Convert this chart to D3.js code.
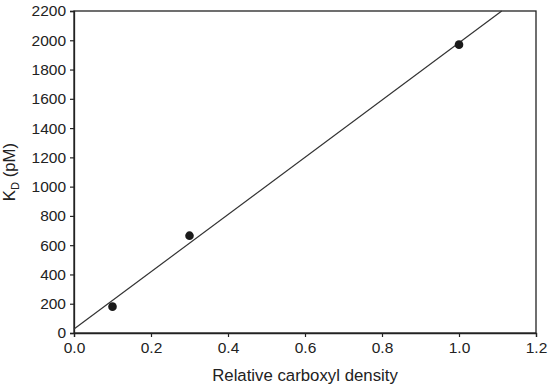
<!DOCTYPE html>
<html><head><meta charset="utf-8">
<script src="https://cdn.jsdelivr.net/npm/d3@7"></script>
<style>body{margin:0;background:#fff;} text{font-family:"Liberation Sans",Arial,sans-serif;fill:#222;}</style>
</head><body>
<svg id="c" width="550" height="389"></svg>
<script>
const xValues = [0.1, 0.3, 1.0];
const yValues = [180, 665, 1970];
const fitX = [0, 1.111];
const fitY = [27, 2200];
const xTicks = [0, 0.2, 0.4, 0.6, 0.8, 1.0, 1.2];
const yTicks = [0, 200, 400, 600, 800, 1000, 1200, 1400, 1600, 1800, 2000, 2200];

const svg = d3.select("#c");
const m = {l:74, r:536, t:11, b:333};
const x = d3.scaleLinear().domain([0,1.2]).range([m.l, m.r]);
const y = d3.scaleLinear().domain([0,2200]).range([m.b, m.t]);

// frame
svg.append("rect").attr("x", m.l).attr("y", m.t).attr("width", m.r-m.l).attr("height", m.b-m.t)
  .attr("fill","none").attr("stroke","#222").attr("stroke-width",1.3);

const xa = svg.append("g").attr("transform",`translate(0,${m.b})`)
  .call(d3.axisBottom(x).tickValues(xTicks).tickFormat(d3.format(".1f")).tickSize(4).tickPadding(5));
const ya = svg.append("g").attr("transform",`translate(${m.l},0)`)
  .call(d3.axisLeft(y).tickValues(yTicks).tickFormat(d3.format("d")).tickSize(4).tickPadding(4));
[xa, ya].forEach(a => {
  a.select(".domain").attr("stroke","#222").attr("stroke-width",1.3);
  a.selectAll(".tick line").attr("stroke","#222").attr("stroke-width",1.2);
  a.selectAll("text").attr("font-size",15.5).attr("fill","#222").attr("font-family","Liberation Sans, Arial, sans-serif");
});

// fit line
svg.append("line").attr("x1", x(fitX[0])).attr("y1", y(fitY[0]))
  .attr("x2", x(fitX[1])).attr("y2", y(fitY[1]))
  .attr("stroke","#333").attr("stroke-width",1.2);

// points
svg.selectAll("circle.pt").data(xValues).enter().append("circle")
  .attr("class","pt").attr("cx", d=>x(d)).attr("cy",(d,i)=>y(yValues[i]))
  .attr("r",4.3).attr("fill","#1a1a1a");

// x label
svg.append("text").attr("x",(m.l+m.r)/2).attr("y",381).attr("text-anchor","middle")
  .attr("font-size",16.8).text("Relative carboxyl density");

// y label
const yl = svg.append("text").attr("transform",`translate(15,${(m.t+m.b)/2}) rotate(-90)`)
  .attr("text-anchor","middle").attr("font-size",16.8);
yl.append("tspan").text("K");
yl.append("tspan").attr("font-size",11).attr("dy",4).text("D");
yl.append("tspan").attr("dy",-4).text(" (pM)");
</script>
</body></html>
